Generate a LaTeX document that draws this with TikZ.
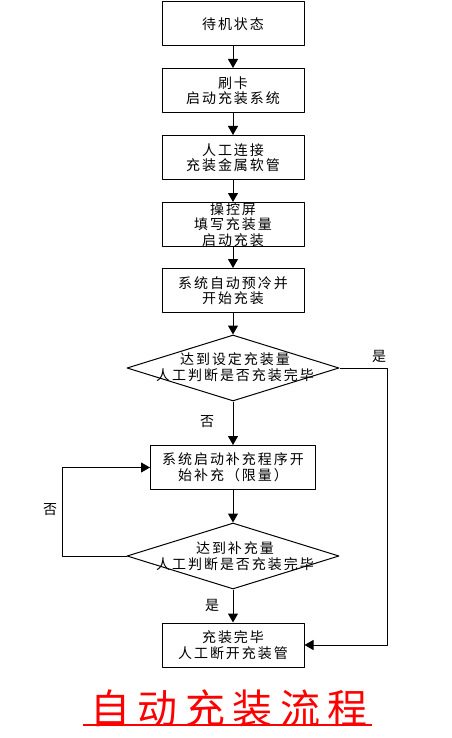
\documentclass[tikz,border=0pt]{standalone}
\usepackage{fontspec}
\setmainfont[LetterSpace=14]{Noto Sans CJK SC}
\newfontfamily\titlefont[LetterSpace=19]{Noto Sans CJK SC}
\usetikzlibrary{arrows.meta,shapes.geometric}

\begin{document}
\begin{tikzpicture}[x=1pt,y=-1pt,>={Triangle[width=10pt,length=9pt]},line join=round,line width=1pt,
  font=\fontsize{14}{15.5}\selectfont,
  stepbox/.style={draw,minimum width=142pt,minimum height=44pt,align=center,inner sep=0pt},
  choice/.style={draw,diamond,minimum width=212pt,minimum height=66pt,inner sep=0pt},
  choicetext/.style={align=center,inner sep=0pt}]
\useasboundingbox (0,0) rectangle (451,738);
% main chain
\node[stepbox] (b1) at (233,24) {待机状态};
\node[stepbox] (b2) at (233,90.5) {刷卡\\启动充装系统};
\node[stepbox] (b3) at (233,157.5) {人工连接\\充装金属软管};
\node[stepbox] (b4) at (233,224.5) {操控屏\\填写充装量\\启动充装};
\node[stepbox] (b5) at (233,290.5) {系统自动预冷并\\开始充装};
% first check
\node[choice] (d1) at (233,368) {};
\node[choicetext] (t1) at (235,367) {达到设定充装量\\人工判断是否充装完毕};
% top-up loop
\node[stepbox,minimum width=165pt] (b7) at (233,467.5) {系统启动补充程序开\\始补充（限量）};
\node[choice] (d2) at (233,556) {};
\node[choicetext] (t2) at (235,556) {达到补充量\\人工判断是否充装完毕};
% end
\node[stepbox] (b6) at (233,645) {充装完毕\\人工断开充装管};
\coordinate (c1) at (387,368);
\coordinate (c2) at (62,556);
% connectors
\draw[->] (b1) -- (b2);
\draw[->] (b2) -- (b3);
\draw[->] (b3) -- (b4);
\draw[->] (b4) -- (b5);
\draw[->] (b5) -- (d1);
\draw[->] (d1) -- (b7);
\draw[->] (b7) -- (d2);
\draw[->] (d2) -- (b6);
\draw[->] (d1.east) -- (c1) |- (b6.east);
\draw[->] (d2.west) -- (c2) |- (b7.west);
% labels
\node (yes1) at (379,356) {是};
\node (no1) at (207,422) {否};
\node (no2) at (50,510) {否};
\node (yes2) at (212,605) {是};
% title
\node[red,inner sep=0pt,font=\titlefont\fontsize{40}{44}\selectfont] (title) at (229,708) {自动充装流程};
\draw[red,line width=1.2pt] (83,725) -- (372,725);
\end{tikzpicture}
\end{document}
